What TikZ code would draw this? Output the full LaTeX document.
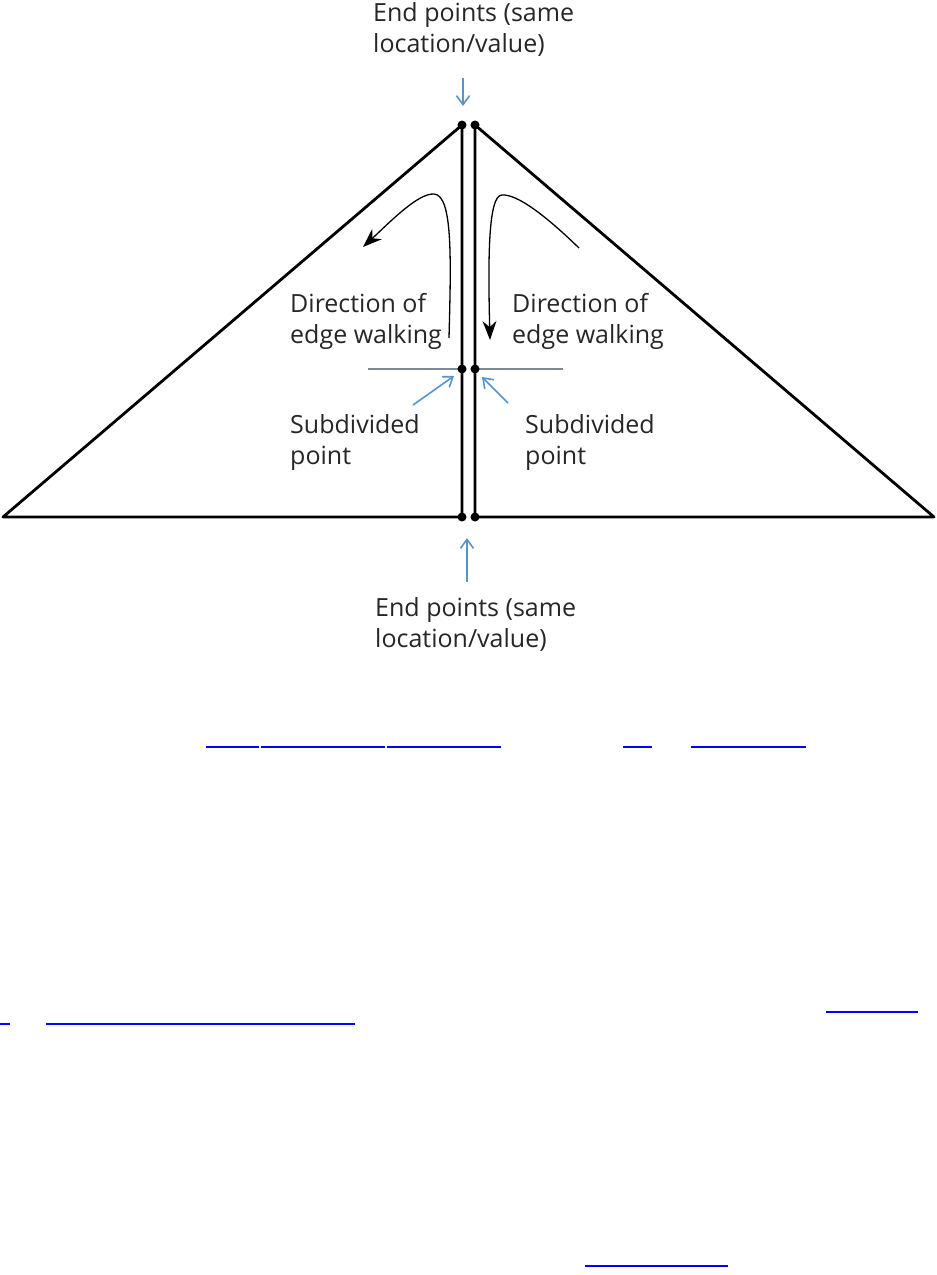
\documentclass[tikz,border=0pt]{standalone}
\usepackage{fontspec}
\setmainfont{Open Sans}
\usetikzlibrary{arrows.meta}
\definecolor{callblue}{RGB}{88,148,202}
\definecolor{guidegray}{RGB}{125,138,150}
\definecolor{linkblue}{RGB}{0,0,255}
\tikzset{
  edge/.style={line width=2.8pt, line cap=round, line join=round},
  vert/.style={circle, fill=black, inner sep=0pt, minimum size=9pt},
  lbl/.style={anchor=north west, inner sep=0pt, align=left, font=\fontsize{25}{31}\selectfont, text=black!85},
  callout/.style={callblue, line width=1.6pt, -{Straight Barb[length=9pt,width=13pt,line width=1.6pt]}},
  walk/.style={line width=1.3pt, -{Stealth[length=19pt,width=14pt]}},
  guide/.style={guidegray, line width=1.4pt},
  link/.style={linkblue, line width=2.2pt}
}
\begin{document}
\begin{tikzpicture}[x=1pt,y=-1pt]
\useasboundingbox (0,0) rectangle (937,1275);
% vertices
\coordinate (LT) at (462,125);
\coordinate (RT) at (475,125);
\coordinate (LM) at (462,369);
\coordinate (RM) at (475,369);
\coordinate (LB) at (462,517);
\coordinate (RB) at (475,517);
\coordinate (LL) at (3,517);
\coordinate (RR) at (934,517);
% guide lines
\coordinate (GL) at (368,369);
\coordinate (GR) at (563,369);
\draw[guide] (GL) -- (LM);
\draw[guide] (RM) -- (GR);
% triangles
\draw[edge] (LT) -- (LL) -- (LB) -- cycle;
\draw[edge] (RT) -- (RR) -- (RB) -- cycle;
\foreach \p in {LT,RT,LM,RM,LB,RB} \node[vert] at (\p) {};
% labels
\node[lbl] (top) at (373,2) {End points (same\\location/value)};
\node[lbl] (dirL) at (290,293) {Direction of\\edge walking};
\node[lbl] (dirR) at (512,293) {Direction of\\edge walking};
\node[lbl] (subL) at (290,414) {Subdivided\\point};
\node[lbl] (subR) at (525,414) {Subdivided\\point};
\node[lbl] (bot) at (375,597) {End points (same\\location/value)};
% callouts
\coordinate (t1) at (463,78);
\coordinate (t2) at (463,106);
\draw[callout] (t1) -- (t2);
\coordinate (b1) at (467,582);
\coordinate (b2) at (467,538);
\draw[callout] (b1) -- (b2);
\coordinate (s1) at (413,405);
\coordinate (s2) at (454,376);
\draw[callout] (s1) -- (s2);
\coordinate (r1) at (508,403);
\coordinate (r2) at (482,377);
\draw[callout] (r1) -- (r2);
% walking arrows
\coordinate (wl0) at (449,338);
\coordinate (wl1) at (434,194);
\coordinate (wl2) at (363,247);
\draw[walk] (wl0) .. controls (451,260) and (453,195) .. (wl1) .. controls (418,193) and (390,222) .. (wl2);
\coordinate (wr0) at (579,248);
\coordinate (wr1) at (502,195);
\coordinate (wr2) at (490,340);
\draw[walk] (wr0) .. controls (545,215) and (517,194) .. (wr1) .. controls (488,195) and (488,260) .. (wr2);
% link underlines
\coordinate (u1a) at (206,747); \coordinate (u1b) at (259,747);
\coordinate (u2a) at (261,747); \coordinate (u2b) at (385,747);
\coordinate (u3a) at (387,747); \coordinate (u3b) at (501,747);
\coordinate (u4a) at (623,747); \coordinate (u4b) at (652,747);
\coordinate (u5a) at (691,747); \coordinate (u5b) at (806,747);
\coordinate (u6a) at (826,1012); \coordinate (u6b) at (918,1012);
\coordinate (u7a) at (0,1024); \coordinate (u7b) at (10,1024);
\coordinate (u8a) at (46,1024); \coordinate (u8b) at (355,1024);
\coordinate (u9a) at (585,1266); \coordinate (u9b) at (728,1266);
\foreach \a/\b in {u1a/u1b,u2a/u2b,u3a/u3b,u4a/u4b,u5a/u5b,u6a/u6b,u7a/u7b,u8a/u8b,u9a/u9b}
  \draw[link] (\a) -- (\b);
\end{tikzpicture}
\end{document}
